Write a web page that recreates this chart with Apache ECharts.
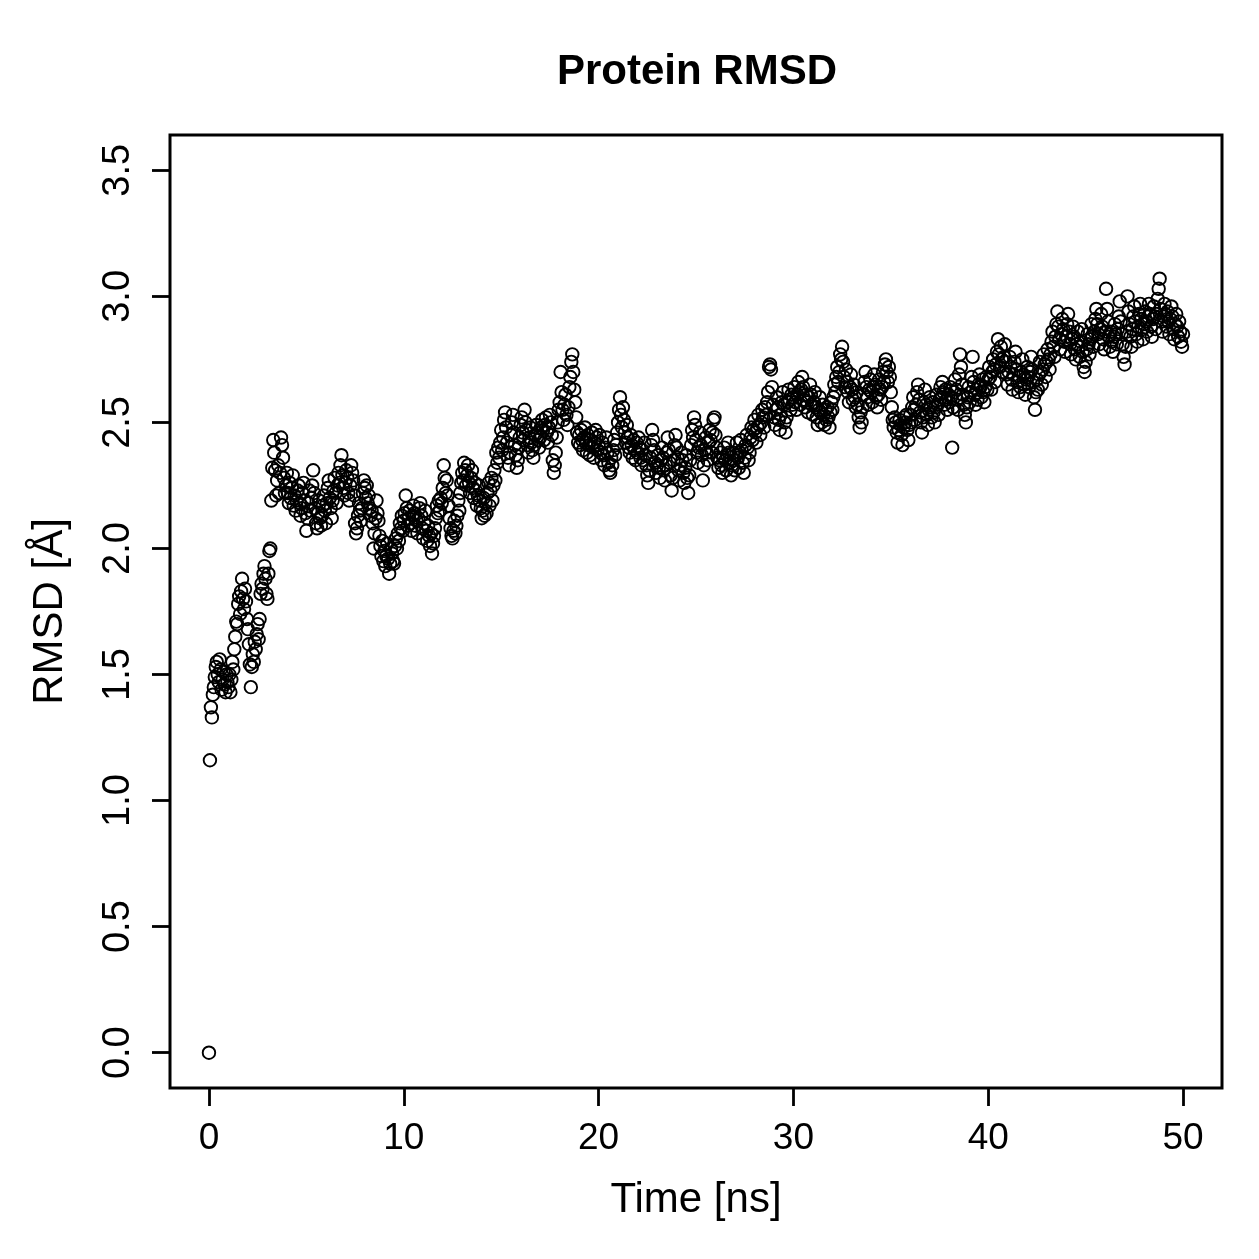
<!DOCTYPE html>
<html>
<head>
<meta charset="utf-8">
<script src="https://cdn.jsdelivr.net/npm/echarts@6/dist/echarts.min.js"></script>
<style>html,body{margin:0;padding:0;background:#fff}#c{width:1259px;height:1259px}</style>
</head>
<body>
<div id="c"></div>
<script>
// RMSD values (Å), sampled every 0.05 ns from 0 to 50 ns
const timeStep = 0.05;
const rmsd = [
0.00,1.16,1.37,1.33,1.42,1.45,1.49,1.53,1.55,1.50,1.47,1.56,1.52,1.44,1.48,1.51,1.46,1.43,1.50,1.47,
1.45,1.50,1.43,1.48,1.55,1.52,1.60,1.65,1.71,1.70,1.78,1.81,1.74,1.83,1.88,1.80,1.76,1.84,1.79,1.72,
1.68,1.62,1.54,1.45,1.53,1.58,1.55,1.63,1.60,1.66,1.70,1.64,1.72,1.82,1.86,1.84,1.90,1.93,1.88,1.82,
1.80,1.90,1.99,2.00,2.19,2.32,2.43,2.38,2.31,2.21,2.27,2.33,2.22,2.30,2.44,2.41,2.36,2.28,2.22,2.25,
2.30,2.22,2.18,2.26,2.20,2.24,2.29,2.17,2.21,2.15,2.19,2.23,2.25,2.18,2.13,2.16,2.22,2.26,2.19,2.14,
2.07,2.12,2.18,2.23,2.15,2.20,2.25,2.31,2.22,2.16,2.10,2.08,2.14,2.19,2.12,2.09,2.13,2.17,2.21,2.15,
2.10,2.18,2.24,2.27,2.20,2.16,2.12,2.19,2.23,2.28,2.22,2.18,2.25,2.30,2.26,2.33,2.37,2.29,2.24,2.21,
2.26,2.31,2.28,2.22,2.19,2.25,2.33,2.30,2.27,2.21,2.10,2.06,2.08,2.13,2.18,2.15,2.11,2.16,2.22,2.27,
2.24,2.20,2.25,2.18,2.21,2.16,2.13,2.15,2.10,2.00,2.06,2.12,2.19,2.14,2.11,2.05,2.01,1.97,2.03,1.95,
1.99,1.93,1.97,2.02,1.96,1.90,1.94,2.00,1.98,1.95,1.94,2.01,2.04,2.00,2.06,2.03,2.10,2.08,2.13,2.07,
2.11,2.14,2.21,2.16,2.09,2.12,2.15,2.10,2.07,2.13,2.17,2.14,2.09,2.11,2.06,2.12,2.16,2.18,2.13,2.08,
2.04,2.10,2.15,2.07,2.03,2.09,2.05,2.01,2.06,1.98,2.02,2.05,2.08,2.12,2.17,2.14,2.19,2.15,2.20,2.18,
2.24,2.33,2.28,2.22,2.27,2.21,2.17,2.12,2.08,2.05,2.04,2.07,2.11,2.06,2.09,2.13,2.19,2.15,2.22,2.26,
2.30,2.27,2.34,2.31,2.25,2.29,2.33,2.26,2.22,2.28,2.31,2.24,2.20,2.26,2.23,2.17,2.21,2.25,2.19,2.16,
2.12,2.15,2.20,2.13,2.18,2.14,2.22,2.26,2.17,2.23,2.28,2.19,2.25,2.31,2.27,2.38,2.34,2.40,2.36,2.42,
2.47,2.39,2.44,2.51,2.54,2.48,2.42,2.36,2.33,2.38,2.45,2.50,2.53,2.46,2.41,2.37,2.32,2.35,2.40,2.44,
2.49,2.52,2.46,2.43,2.55,2.50,2.47,2.41,2.38,2.44,2.48,2.42,2.39,2.36,2.41,2.45,2.49,2.46,2.43,2.40,
2.44,2.48,2.51,2.47,2.43,2.49,2.52,2.46,2.42,2.48,2.53,2.50,2.45,2.35,2.30,2.33,2.38,2.44,2.50,2.55,
2.58,2.70,2.62,2.55,2.51,2.57,2.61,2.53,2.49,2.56,2.64,2.68,2.74,2.77,2.70,2.63,2.58,2.52,2.46,2.42,
2.45,2.41,2.47,2.43,2.39,2.44,2.48,2.42,2.38,2.45,2.41,2.37,2.43,2.46,2.40,2.36,2.42,2.47,2.44,2.39,
2.41,2.45,2.38,2.35,2.42,2.37,2.33,2.40,2.44,2.38,2.34,2.31,2.30,2.36,2.33,2.39,2.43,2.37,2.41,2.46,
2.50,2.55,2.60,2.53,2.48,2.56,2.51,2.46,2.42,2.49,2.44,2.40,2.38,2.45,2.41,2.36,2.43,2.39,2.35,2.42,
2.38,2.44,2.40,2.36,2.33,2.39,2.35,2.42,2.37,2.33,2.29,2.26,2.31,2.36,2.41,2.47,2.43,2.39,2.34,2.30,
2.33,2.37,2.32,2.28,2.35,2.40,2.36,2.31,2.27,2.33,2.38,2.44,2.39,2.34,2.29,2.23,2.28,2.35,2.41,2.45,
2.40,2.36,2.31,2.27,2.33,2.38,2.35,2.30,2.26,2.32,2.37,2.28,2.22,2.29,2.35,2.41,2.47,2.44,2.52,2.49,
2.43,2.38,2.34,2.40,2.46,2.41,2.37,2.27,2.33,2.39,2.44,2.38,2.35,2.42,2.47,2.43,2.38,2.46,2.51,2.52,
2.45,2.40,2.36,2.32,2.35,2.38,2.33,2.30,2.36,2.40,2.35,2.31,2.37,2.42,2.38,2.34,2.29,2.33,2.38,2.35,
2.31,2.37,2.42,2.36,2.32,2.38,2.43,2.39,2.34,2.30,2.36,2.41,2.45,2.40,2.35,2.38,2.44,2.48,2.43,2.47,
2.51,2.46,2.42,2.48,2.53,2.49,2.45,2.50,2.55,2.52,2.48,2.56,2.53,2.58,2.62,2.72,2.73,2.71,2.64,2.57,
2.52,2.49,2.55,2.60,2.56,2.51,2.47,2.53,2.58,2.62,2.57,2.50,2.46,2.52,2.58,2.63,2.59,2.55,2.61,2.57,
2.60,2.64,2.58,2.55,2.61,2.66,2.62,2.57,2.63,2.68,2.64,2.59,2.56,2.61,2.58,2.54,2.60,2.65,2.61,2.57,
2.53,2.58,2.62,2.56,2.52,2.49,2.55,2.60,2.54,2.50,2.57,2.53,2.49,2.55,2.51,2.56,2.52,2.48,2.54,2.58,
2.55,2.60,2.65,2.62,2.68,2.72,2.66,2.70,2.77,2.75,2.80,2.74,2.68,2.64,2.71,2.66,2.62,2.58,2.64,2.69,
2.63,2.59,2.65,2.60,2.56,2.62,2.57,2.52,2.48,2.54,2.50,2.56,2.61,2.66,2.70,2.64,2.60,2.57,2.63,2.67,
2.62,2.58,2.64,2.69,2.65,2.60,2.56,2.61,2.67,2.63,2.59,2.64,2.70,2.66,2.73,2.75,2.70,2.66,2.72,2.68,
2.62,2.56,2.51,2.48,2.52,2.50,2.46,2.42,2.47,2.51,2.49,2.45,2.41,2.48,2.52,2.50,2.53,2.47,2.43,2.49,
2.53,2.50,2.56,2.60,2.55,2.51,2.57,2.62,2.65,2.59,2.54,2.50,2.46,2.52,2.58,2.63,2.57,2.53,2.49,2.55,
2.60,2.56,2.52,2.58,2.54,2.50,2.56,2.61,2.57,2.53,2.59,2.64,2.60,2.66,2.62,2.57,2.63,2.59,2.55,2.61,
2.58,2.64,2.60,2.40,2.56,2.62,2.67,2.63,2.59,2.55,2.69,2.77,2.72,2.65,2.61,2.57,2.53,2.50,2.56,2.60,
2.64,2.58,2.62,2.68,2.76,2.66,2.61,2.57,2.63,2.59,2.65,2.69,2.64,2.60,2.67,2.62,2.58,2.64,2.68,2.63,
2.67,2.72,2.68,2.63,2.70,2.75,2.71,2.66,2.73,2.78,2.83,2.77,2.72,2.80,2.75,2.70,2.76,2.81,2.74,2.69,
2.65,2.70,2.76,2.72,2.67,2.63,2.69,2.74,2.78,2.71,2.66,2.62,2.68,2.64,2.70,2.75,2.69,2.65,2.61,2.67,
2.72,2.68,2.64,2.70,2.76,2.71,2.66,2.60,2.55,2.62,2.67,2.63,2.69,2.74,2.70,2.65,2.71,2.77,2.73,2.68,
2.74,2.79,2.75,2.71,2.77,2.82,2.86,2.80,2.76,2.84,2.89,2.94,2.88,2.83,2.79,2.85,2.91,2.87,2.82,2.78,
2.84,2.89,2.93,2.86,2.81,2.77,2.83,2.88,2.84,2.79,2.75,2.81,2.86,2.80,2.76,2.82,2.87,2.78,2.72,2.70,
2.74,2.79,2.85,2.81,2.77,2.83,2.89,2.84,2.80,2.86,2.91,2.95,2.89,2.85,2.81,2.87,2.93,2.88,2.83,2.79,
2.86,3.03,2.95,2.90,2.84,2.80,2.86,2.82,2.78,2.84,2.89,2.85,2.81,2.87,2.92,2.98,2.90,2.85,2.81,2.76,
2.73,2.80,2.86,3.00,2.94,2.89,2.84,2.80,2.87,2.92,2.96,2.90,2.85,2.82,2.88,2.93,2.97,2.91,2.87,2.83,
2.89,2.94,2.90,2.86,2.92,2.97,2.93,2.88,2.84,2.91,2.96,2.92,2.87,2.93,2.99,3.03,3.07,2.95,2.90,2.86,
2.92,2.97,2.93,2.88,2.94,2.90,2.85,2.91,2.96,2.92,2.87,2.83,2.89,2.93,2.88,2.84,2.90,2.86,2.82,2.80,
2.85
];
const xTicks = [0, 10, 20, 30, 40, 50];
const yTicks = [0, 0.5, 1, 1.5, 2, 2.5, 3, 3.5];
const titleText = 'Protein RMSD';
const xName = 'Time [ns]';
const yName = 'RMSD [Å]';

const points = rmsd.map((v, i) => [+(i * timeStep).toFixed(2), v]);
const FONT = 'Liberation Sans, Arial, Helvetica, sans-serif';
const chart = echarts.init(document.getElementById('c'), null, {renderer: 'canvas'});
chart.setOption({
  animation: false,
  backgroundColor: '#fff',
  title: {
    text: titleText, left: 692, top: 46, textAlign: 'center',
    textStyle: {fontFamily: FONT, fontWeight: 'bold', fontSize: 42, color: '#000'}
  },
  grid: {left: 170, right: 37, top: 135, bottom: 171, show: true, borderColor: '#000', borderWidth: 3, backgroundColor: 'transparent'},
  xAxis: {
    type: 'value', min: -2, max: 52,
    axisLine: {show: false, onZero: false},
    splitLine: {show: false},
    axisTick: {show: true, length: 18, lineStyle: {color: '#000', width: 2.8}, customValues: xTicks},
    axisLabel: {customValues: xTicks, margin: 32, fontFamily: FONT, fontSize: 37, color: '#000', formatter: v => String(v)},
    name: xName, nameLocation: 'middle', nameGap: 91,
    nameTextStyle: {fontFamily: FONT, fontSize: 42, color: '#000'}
  },
  yAxis: {
    type: 'value', min: -0.14, max: 3.64,
    axisLine: {show: false, onZero: false},
    splitLine: {show: false},
    axisTick: {show: true, length: 18, lineStyle: {color: '#000', width: 2.8}, customValues: yTicks},
    axisLabel: {customValues: yTicks, rotate: 90, margin: 32, fontFamily: FONT, fontSize: 38, color: '#000', formatter: v => v.toFixed(1)},
    name: yName, nameLocation: 'middle', nameGap: 99,
    nameTextStyle: {fontFamily: FONT, fontSize: 42, color: '#000'}
  },
  series: [{
    type: 'scatter',
    data: points,
    symbol: 'circle',
    symbolSize: 12.5,
    large: false,
    itemStyle: {color: 'rgba(0,0,0,0)', borderColor: '#000', borderWidth: 1.9, opacity: 1},
    emphasis: {disabled: true}
  }]
});
</script>
</body>
</html>
